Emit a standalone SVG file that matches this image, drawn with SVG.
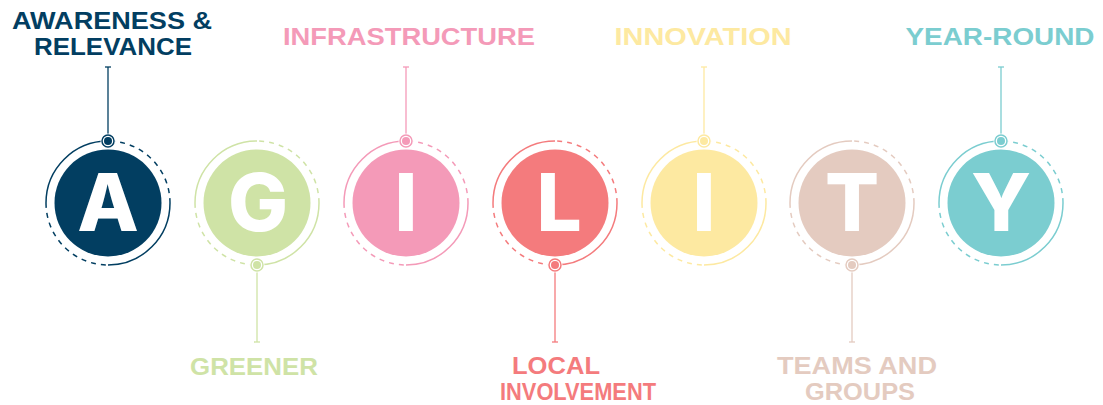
<svg xmlns="http://www.w3.org/2000/svg" width="1103" height="405" viewBox="0 0 1103 405">
<style>
.lbl{font-family:"Liberation Sans",Arial,sans-serif;font-weight:700;font-size:23px;text-anchor:middle}
.big{font-family:Inter,"Open Sans","Liberation Sans",sans-serif;font-weight:800;font-size:80px;text-anchor:middle;fill:#fff}
.solid{fill:none;stroke-width:1.5}
.dash{fill:none;stroke-width:1.5;stroke-dasharray:5 5}
.ln{stroke-width:1.3;fill:none}
</style>
<defs>
<g id="ring">
<path class="solid" d="M0,-62 A62,62 0 0 0 -62,0"/>
<path class="dash" d="M-62,0 A62,62 0 0 0 0,62"/>
<path class="solid" d="M0,62 A62,62 0 0 0 62,0"/>
<path class="dash" d="M62,0 A62,62 0 0 0 0,-62"/>
</g>
</defs>
<rect width="1103" height="405" fill="#fff"/>
<g id="connectors">
<g stroke="#023e61" class="ln"><line x1="108" y1="67" x2="108" y2="134"/><line x1="105" y1="67" x2="111" y2="67"/></g>
<g stroke="#cfe3a6" class="ln"><line x1="257" y1="272" x2="257" y2="342"/><line x1="254" y1="342" x2="260" y2="342"/></g>
<g stroke="#f49ab8" class="ln"><line x1="406" y1="67" x2="406" y2="134"/><line x1="403" y1="67" x2="409" y2="67"/></g>
<g stroke="#f47b7d" class="ln"><line x1="555" y1="272" x2="555" y2="342"/><line x1="552" y1="342" x2="558" y2="342"/></g>
<g stroke="#fde9a1" class="ln"><line x1="704" y1="67" x2="704" y2="134"/><line x1="701" y1="67" x2="707" y2="67"/></g>
<g stroke="#e4cbc0" class="ln"><line x1="852" y1="272" x2="852" y2="342"/><line x1="849" y1="342" x2="855" y2="342"/></g>
<g stroke="#7bcdd0" class="ln"><line x1="1001" y1="67" x2="1001" y2="134"/><line x1="998" y1="67" x2="1004" y2="67"/></g>
</g>
<g id="node-a">
<use href="#ring" transform="translate(108,203)" stroke="#023e61"/>
<circle cx="108" cy="203" r="53.5" fill="#023e61"/>
<circle cx="108" cy="141" r="7.5" fill="#fff"/>
<circle cx="108" cy="141" r="6" fill="#fff" stroke="#023e61" stroke-width="1.5"/>
<circle cx="108" cy="141" r="4" fill="#023e61"/>
<text class="big" x="108" y="231">A</text>
<text class="lbl" fill="#023e61" x="112" y="29" textLength="200" lengthAdjust="spacingAndGlyphs">AWARENESS &amp;</text>
<text class="lbl" fill="#023e61" x="113" y="55" textLength="158" lengthAdjust="spacingAndGlyphs">RELEVANCE</text>
</g>
<g id="node-g">
<use href="#ring" transform="translate(257,203) rotate(180)" stroke="#cfe3a6"/>
<circle cx="257" cy="203" r="53.5" fill="#cfe3a6"/>
<circle cx="257" cy="265" r="7.5" fill="#fff"/>
<circle cx="257" cy="265" r="6" fill="#fff" stroke="#cfe3a6" stroke-width="1.5"/>
<circle cx="257" cy="265" r="4" fill="#cfe3a6"/>
<text class="big" x="258" y="231">G</text>
<text class="lbl" fill="#cfe3a6" x="254" y="375" textLength="128" lengthAdjust="spacingAndGlyphs">GREENER</text>
</g>
<g id="node-i1">
<use href="#ring" transform="translate(406,203)" stroke="#f49ab8"/>
<circle cx="406" cy="203" r="53.5" fill="#f49ab8"/>
<circle cx="406" cy="141" r="7.5" fill="#fff"/>
<circle cx="406" cy="141" r="6" fill="#fff" stroke="#f49ab8" stroke-width="1.5"/>
<circle cx="406" cy="141" r="4" fill="#f49ab8"/>
<text class="big" x="406" y="231">I</text>
<text class="lbl" fill="#f49ab8" x="409" y="45" textLength="252" lengthAdjust="spacingAndGlyphs">INFRASTRUCTURE</text>
</g>
<g id="node-l">
<use href="#ring" transform="translate(555,203) rotate(180)" stroke="#f47b7d"/>
<circle cx="555" cy="203" r="53.5" fill="#f47b7d"/>
<circle cx="555" cy="265" r="7.5" fill="#fff"/>
<circle cx="555" cy="265" r="6" fill="#fff" stroke="#f47b7d" stroke-width="1.5"/>
<circle cx="555" cy="265" r="4" fill="#f47b7d"/>
<text class="big" x="559" y="231">L</text>
<text class="lbl" fill="#f47b7d" x="556" y="374" textLength="88" lengthAdjust="spacingAndGlyphs">LOCAL</text>
<text class="lbl" fill="#f47b7d" x="578" y="400" textLength="156" lengthAdjust="spacingAndGlyphs">INVOLVEMENT</text>
</g>
<g id="node-i2">
<use href="#ring" transform="translate(704,203)" stroke="#fde9a1"/>
<circle cx="704" cy="203" r="53.5" fill="#fde9a1"/>
<circle cx="704" cy="141" r="7.5" fill="#fff"/>
<circle cx="704" cy="141" r="6" fill="#fff" stroke="#fde9a1" stroke-width="1.5"/>
<circle cx="704" cy="141" r="4" fill="#fde9a1"/>
<text class="big" x="704" y="231">I</text>
<text class="lbl" fill="#fde9a1" x="703" y="45" textLength="177" lengthAdjust="spacingAndGlyphs">INNOVATION</text>
</g>
<g id="node-t">
<use href="#ring" transform="translate(852,203) rotate(180)" stroke="#e4cbc0"/>
<circle cx="852" cy="203" r="53.5" fill="#e4cbc0"/>
<circle cx="852" cy="265" r="7.5" fill="#fff"/>
<circle cx="852" cy="265" r="6" fill="#fff" stroke="#e4cbc0" stroke-width="1.5"/>
<circle cx="852" cy="265" r="4" fill="#e4cbc0"/>
<text class="big" x="852" y="231">T</text>
<text class="lbl" fill="#e4cbc0" x="857" y="374" textLength="160" lengthAdjust="spacingAndGlyphs">TEAMS AND</text>
<text class="lbl" fill="#e4cbc0" x="860" y="400" textLength="110" lengthAdjust="spacingAndGlyphs">GROUPS</text>
</g>
<g id="node-y">
<use href="#ring" transform="translate(1001,203)" stroke="#7bcdd0"/>
<circle cx="1001" cy="203" r="53.5" fill="#7bcdd0"/>
<circle cx="1001" cy="141" r="7.5" fill="#fff"/>
<circle cx="1001" cy="141" r="6" fill="#fff" stroke="#7bcdd0" stroke-width="1.5"/>
<circle cx="1001" cy="141" r="4" fill="#7bcdd0"/>
<text class="big" x="1001" y="231">Y</text>
<text class="lbl" fill="#7bcdd0" x="1000" y="45" textLength="189" lengthAdjust="spacingAndGlyphs">YEAR-ROUND</text>
</g>
</svg>
